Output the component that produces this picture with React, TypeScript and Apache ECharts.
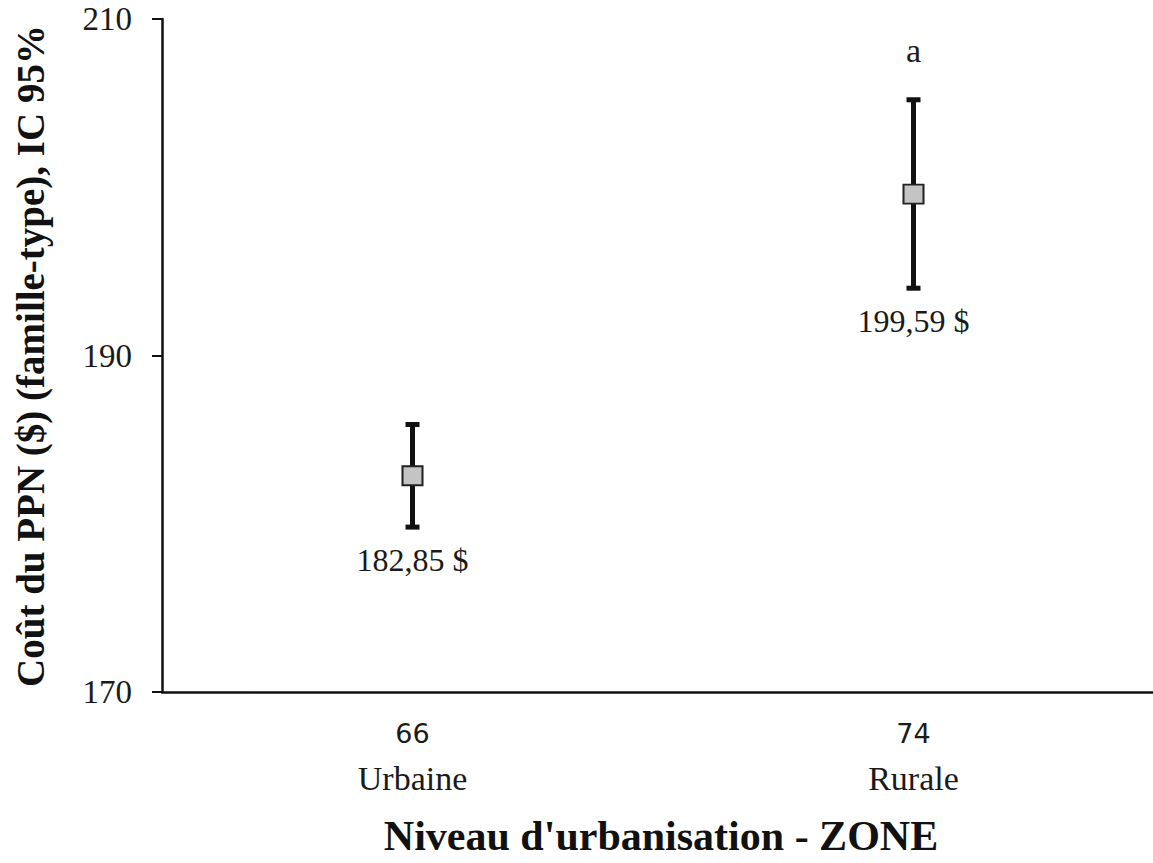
import React, { useEffect, useRef } from "react";
import * as echarts from "echarts";

const categories = ["Urbaine", "Rurale"];
const sampleSizes = ["66", "74"];
const means = [182.85, 199.59];
const lowerCI = [179.8, 194.0];
const upperCI = [185.9, 205.2];
const meanLabels = ["182,85 $", "199,59 $"];
const groupLetters = ["", "a"];
const yTicks = { min: 170, max: 210, interval: 20 };

const SERIF = "'Liberation Serif', 'Times New Roman', serif";
const SANS = "'DejaVu Sans', Verdana, sans-serif";

export default function App() {
  const ref = useRef<HTMLDivElement>(null);

  useEffect(() => {
    if (!ref.current) return;
    const chart = echarts.init(ref.current, null, { renderer: "svg" });

    const errData = categories.map((_, i) => [i, lowerCI[i], upperCI[i], means[i]]);

    chart.setOption({
      animation: false,
      backgroundColor: "#ffffff",
      grid: { left: 162, top: 19, bottom: 171, right: 1, containLabel: false },
      xAxis: {
        type: "category",
        data: categories,
        boundaryGap: true,
        axisLine: { lineStyle: { color: "#111", width: 2.5 } },
        axisTick: { alignWithLabel: true, length: 5, lineStyle: { color: "#111", width: 2 } },
        axisLabel: {
          margin: 21,
          formatter: (v: string) => {
            const i = categories.indexOf(v);
            return `{n|${sampleSizes[i]}}\n{z|${v}}`;
          },
          rich: {
            n: { fontFamily: SANS, fontSize: 27, lineHeight: 40, color: "#1a1a1a" },
            z: { fontFamily: SERIF, fontSize: 34, lineHeight: 50, color: "#1a1a1a" },
          },
        },
        splitLine: { show: false },
      },
      yAxis: {
        type: "value",
        min: yTicks.min,
        max: yTicks.max,
        interval: yTicks.interval,
        axisLine: { show: true, lineStyle: { color: "#111", width: 2.5 } },
        axisTick: { show: true, length: 10, lineStyle: { color: "#111", width: 2 } },
        axisLabel: { margin: 30, fontFamily: SERIF, fontSize: 33, color: "#1a1a1a" },
        splitLine: { show: false },
      },
      graphic: [
        {
          type: "text",
          x: 30,
          y: 356,
          rotation: Math.PI / 2,
          style: {
            text: "Coût du PPN ($) (famille-type), IC 95%",
            fontFamily: SERIF,
            fontWeight: "bold",
            fontSize: 39,
            fill: "#111",
            textAlign: "center",
            textVerticalAlign: "middle",
          },
        },
        {
          type: "text",
          x: 661,
          y: 836,
          style: {
            text: "Niveau d'urbanisation - ZONE",
            fontFamily: SERIF,
            fontWeight: "bold",
            fontSize: 42,
            fill: "#111",
            textAlign: "center",
            textVerticalAlign: "middle",
          },
        },
      ],
      series: [
        {
          type: "custom",
          z: 2,
          data: errData,
          renderItem: (params: any, api: any) => {
            const i = api.value(0);
            const lo = api.coord([i, api.value(1)]);
            const hi = api.coord([i, api.value(2)]);
            const x = lo[0];
            const cap = 7;
            const stroke = { stroke: "#111", lineWidth: 5 };
            const children: any[] = [
              { type: "line", shape: { x1: x, y1: hi[1], x2: x, y2: lo[1] }, style: stroke },
              { type: "line", shape: { x1: x - cap, y1: hi[1], x2: x + cap, y2: hi[1] }, style: stroke },
              { type: "line", shape: { x1: x - cap, y1: lo[1], x2: x + cap, y2: lo[1] }, style: stroke },
              {
                type: "text",
                x: x,
                y: lo[1] + 33,
                style: {
                  text: meanLabels[i],
                  fontFamily: SERIF,
                  fontSize: 32,
                  fill: "#1a1a1a",
                  textAlign: "center",
                  textVerticalAlign: "middle",
                },
              },
            ];
            if (groupLetters[i]) {
              children.push({
                type: "text",
                x: x,
                y: hi[1] - 49,
                style: {
                  text: groupLetters[i],
                  fontFamily: SERIF,
                  fontSize: 34,
                  fill: "#1a1a1a",
                  textAlign: "center",
                  textVerticalAlign: "middle",
                },
              });
            }
            return { type: "group", children };
          },
        },
        {
          type: "scatter",
          z: 3,
          data: means.map((m, i) => [i, m]),
          symbol: "rect",
          symbolSize: [20, 19],
          itemStyle: { color: "#c4c4c4", borderColor: "#222", borderWidth: 2, opacity: 1 },
        },
      ],
    });

    return () => chart.dispose();
  }, []);

  return (
    <div
      style={{
        position: "fixed",
        left: 0,
        top: 0,
        width: 1153,
        height: 863,
        overflow: "hidden",
        background: "#fff",
      }}
    >
      <div ref={ref} style={{ width: 1165, height: 863 }} />
    </div>
  );
}
